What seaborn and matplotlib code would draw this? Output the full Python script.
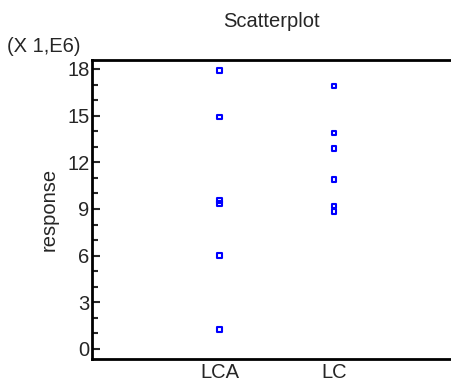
import matplotlib
matplotlib.use("Agg")
import matplotlib.pyplot as plt
from matplotlib.ticker import MultipleLocator, FuncFormatter
import pandas as pd
import seaborn as sns

groups = ["LCA", "LC"]
lca_values = [17.9e6, 14.9e6, 9.55e6, 9.35e6, 6.0e6, 1.25e6]
lc_values = [16.9e6, 13.9e6, 12.9e6, 10.9e6, 9.2e6, 8.85e6]

df = pd.DataFrame({
    "group": ["LCA"] * len(lca_values) + ["LC"] * len(lc_values),
    "response": lca_values + lc_values,
})

sns.set_style("white")
plt.rcParams["font.family"] = ["Liberation Sans", "DejaVu Sans"]
fs = 14.5

fig = plt.figure(figsize=(4.51, 3.83), dpi=100)
ax = fig.add_axes([0.205, 0.063, 0.795, 0.780])

sns.stripplot(data=df, x="group", y="response", order=groups, jitter=False,
              marker="s", size=3.2, color="blue", facecolor="none",
              edgecolor="blue", linewidth=1.5, ax=ax)

ax.set_xlim(-1.11, 2.025)
ax.set_ylim(-0.64e6, 18.57e6)
ax.yaxis.set_major_locator(MultipleLocator(3e6))
ax.yaxis.set_minor_locator(MultipleLocator(1e6))
ax.yaxis.set_major_formatter(FuncFormatter(lambda v, p: f"{v / 1e6:.0f}"))

ax.tick_params(axis="y", which="major", direction="in", length=6, width=1.5,
               labelsize=fs, pad=2, left=True)
ax.tick_params(axis="y", which="minor", direction="in", length=4, width=1.5,
               left=True)
ax.tick_params(axis="x", length=0, labelsize=fs, pad=3)

for side in ["left", "top", "bottom"]:
    ax.spines[side].set_visible(True)
    ax.spines[side].set_linewidth(2)
    ax.spines[side].set_color("black")
ax.spines["right"].set_visible(False)

ax.set_xlabel("")
ax.set_ylabel("response", fontsize=fs, labelpad=6)
ax.set_title("Scatterplot", fontsize=fs, pad=24)
fig.text(0.015, 0.853, "(X 1,E6)", fontsize=fs, ha="left", va="bottom")

fig.savefig("out.png", dpi=100)
